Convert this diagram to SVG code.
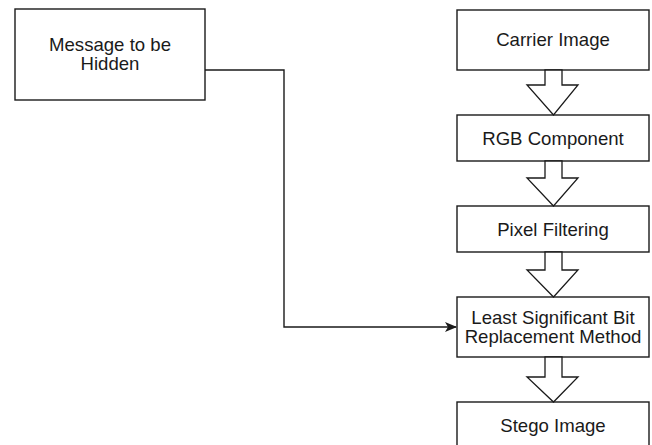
<svg xmlns="http://www.w3.org/2000/svg" width="652" height="445" viewBox="0 0 652 445">
<style>
.box{fill:#ffffff;stroke:#1a1a1a;stroke-width:1.4}
.blk{fill:#ffffff;stroke:#1a1a1a;stroke-width:1.3;stroke-linejoin:miter}
.lbl{font-family:"Liberation Sans",Arial,Helvetica,sans-serif;font-size:18.6px;fill:#1a1a1a;text-anchor:middle}
.con{fill:none;stroke:#1a1a1a;stroke-width:1.4}
</style>
<defs>
<marker id="ah" markerWidth="12" markerHeight="12" refX="11" refY="6" orient="auto" markerUnits="userSpaceOnUse">
<path d="M0,1 L12,6 L0,11 L3,6 Z" fill="#1a1a1a"/>
</marker>
</defs>
<rect width="652" height="445" fill="#ffffff"/>
<g id="n-message">
<rect class="box" x="15" y="9" width="190" height="91"/>
<text class="lbl" x="110" y="51">Message to be</text>
<text class="lbl" x="110" y="70">Hidden</text>
</g>
<g id="n-carrier">
<rect class="box" x="457" y="10" width="192" height="60"/>
<text class="lbl" x="553" y="46">Carrier Image</text>
</g>
<g id="n-rgb">
<rect class="box" x="457" y="115" width="192" height="46"/>
<text class="lbl" x="553" y="145">RGB Component</text>
</g>
<g id="n-pixel">
<rect class="box" x="457" y="206" width="192" height="46"/>
<text class="lbl" x="553" y="236">Pixel Filtering</text>
</g>
<g id="n-lsb">
<rect class="box" x="457" y="297" width="192" height="60"/>
<text class="lbl" x="553" y="324">Least Significant Bit</text>
<text class="lbl" x="553" y="343">Replacement Method</text>
</g>
<g id="n-stego">
<rect class="box" x="457" y="402" width="192" height="60"/>
<text class="lbl" x="553" y="432">Stego Image</text>
</g>
<g id="connectors">
<polygon class="blk" points="545,70 562,70 562,85 578,85 553.5,115 527,85 545,85"/>
<polygon class="blk" points="545,161 562,161 562,178 578,178 553.5,206 527,178 545,178"/>
<polygon class="blk" points="545,252 562,252 562,270 578,270 553.5,297 527,270 545,270"/>
<polygon class="blk" points="545,357 562,357 562,377 578,377 553.5,402 527,377 545,377"/>
<polyline class="con" points="205,70 284,70 284,327 456,327" marker-end="url(#ah)"/>
</g>
</svg>
